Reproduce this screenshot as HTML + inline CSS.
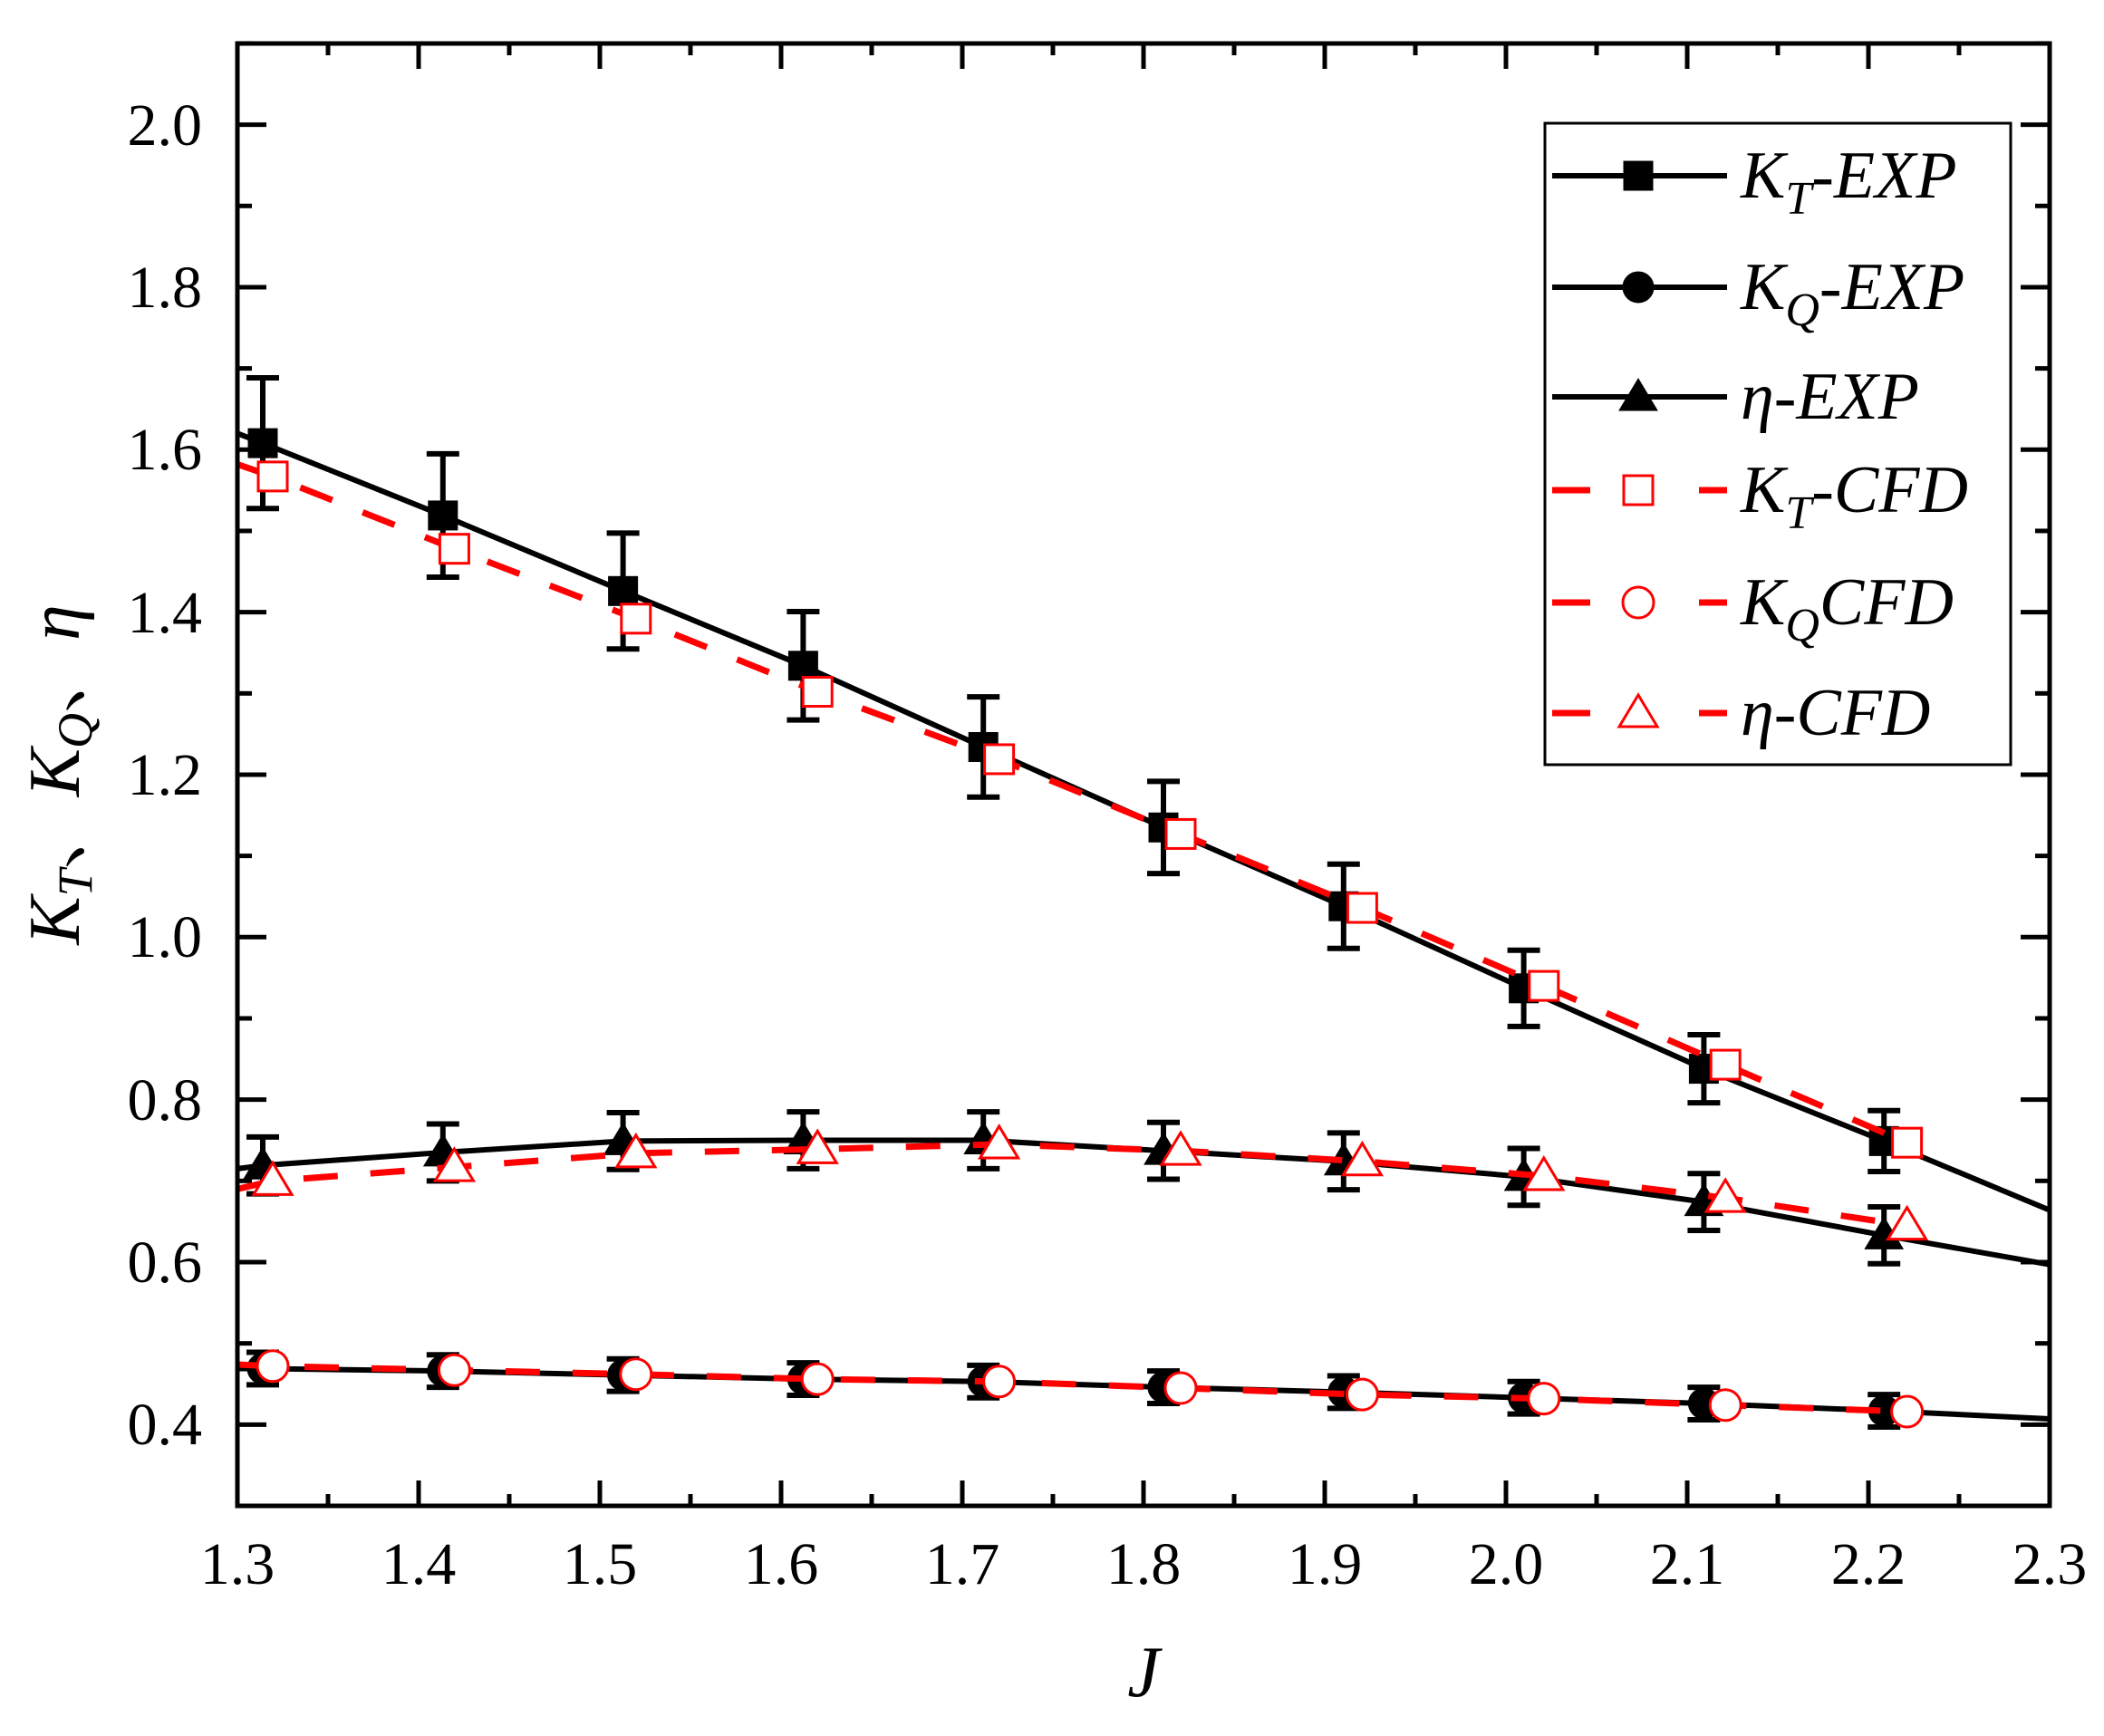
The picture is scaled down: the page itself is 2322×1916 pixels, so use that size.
<!DOCTYPE html>
<html><head><meta charset="utf-8"><style>
html,body{margin:0;padding:0;background:#fff;}
svg{display:block;}
text{font-family:"Liberation Serif","Times New Roman",serif;fill:#000;}
.cjk{font-family:"Noto Serif CJK SC","Noto Sans CJK SC",serif;}
</style></head><body>
<svg id="s" width="2322" height="1916" viewBox="0 0 2322 1916" xmlns="http://www.w3.org/2000/svg">
<rect width="2322" height="1916" fill="#fff"/>
<g id="ticks" stroke="#000" stroke-width="5"></g>
<g id="data"></g>
<rect x="262" y="48" width="2000" height="1614" fill="none" stroke="#000" stroke-width="5"/>
<g font-size="66" text-anchor="end" font-family="Liberation Serif, serif">
<text x="223" y="1594">0.4</text>
<text x="223" y="1415">0.6</text>
<text x="223" y="1236">0.8</text>
<text x="223" y="1056">1.0</text>
<text x="223" y="877">1.2</text>
<text x="223" y="698">1.4</text>
<text x="223" y="518">1.6</text>
<text x="223" y="339">1.8</text>
<text x="223" y="160">2.0</text>
</g>
<g font-size="66" text-anchor="middle" font-family="Liberation Serif, serif">
<text x="262" y="1748">1.3</text>
<text x="462" y="1748">1.4</text>
<text x="662" y="1748">1.5</text>
<text x="862" y="1748">1.6</text>
<text x="1062" y="1748">1.7</text>
<text x="1262" y="1748">1.8</text>
<text x="1462" y="1748">1.9</text>
<text x="1662" y="1748">2.0</text>
<text x="1862" y="1748">2.1</text>
<text x="2062" y="1748">2.2</text>
<text x="2262" y="1748">2.3</text>
</g>
<text x="1262" y="1872" font-size="80" font-style="italic" text-anchor="middle" font-family="Liberation Serif, serif">J</text>
<text transform="translate(87,855) rotate(-90)" font-size="80" text-anchor="middle" font-style="italic" font-family="Liberation Serif, serif">K<tspan font-size="54" dy="14">T</tspan><tspan dy="-14" font-style="normal" class="cjk">、</tspan>K<tspan font-size="54" dy="14">Q</tspan><tspan dy="-14" font-style="normal" class="cjk">、</tspan>η</text>
<rect x="1705" y="136" width="514" height="708" fill="#fff" stroke="#000" stroke-width="3"/>
<g id="leg"></g>
<g font-size="74" font-style="italic" font-family="Liberation Serif, serif">
<text x="1921" y="218">K<tspan font-size="52" dy="18">T</tspan><tspan dy="-18">-EXP</tspan></text>
<text x="1921" y="341">K<tspan font-size="52" dy="18">Q</tspan><tspan dy="-18">-EXP</tspan></text>
<text x="1921" y="462">η-EXP</text>
<text x="1921" y="565">K<tspan font-size="52" dy="18">T</tspan><tspan dy="-18">-CFD</tspan></text>
<text x="1921" y="689">K<tspan font-size="52" dy="18">Q</tspan><tspan dy="-18">CFD</tspan></text>
<text x="1921" y="811">η-CFD</text>
</g>
</svg>
<script>
var NS="http://www.w3.org/2000/svg";
function X(j){return 262+(j-1.3)*2000;}
function Y(v){return 1662-(v-0.3)*896.7;}
function el(p,t,a){var e=document.createElementNS(NS,t);for(var k in a)e.setAttribute(k,a[k]);p.appendChild(e);return e;}
var tk=document.getElementById('ticks');
for(var i=0;i<=20;i++){var j=1.3+i*0.05,x=X(j),L=(i%2==0)?28:13;
 el(tk,'line',{x1:x,y1:1662,x2:x,y2:1662-L});el(tk,'line',{x1:x,y1:48,x2:x,y2:48+L});}
for(var i=0;i<=17;i++){var v=0.4+i*0.1,y=Y(v),L=(i%2==0)?32:16;if(v>2.1)break;
 el(tk,'line',{x1:262,y1:y,x2:262+L,y2:y});el(tk,'line',{x1:2262,y1:y,x2:2262-L,y2:y});}
var d=document.getElementById('data');
var je=[],jc=[];for(var k=0;k<10;k++){je.push(1.314+0.0994*k);jc.push(1.3195+0.1002*k);}
var KTe=[1.608,1.519,1.426,1.334,1.234,1.135,1.038,0.937,0.838,0.749];
var KTc=[1.567,1.478,1.392,1.302,1.219,1.127,1.036,0.940,0.843,0.747];
var ETe=[0.719,0.735,0.749,0.750,0.750,0.737,0.724,0.705,0.674,0.633];
var ETc=[0.700,0.717,0.734,0.739,0.745,0.737,0.724,0.706,0.679,0.645];
var KQe=[0.469,0.466,0.461,0.456,0.453,0.446,0.440,0.433,0.426,0.417];
var KQc=[0.472,0.467,0.462,0.456,0.453,0.445,0.437,0.432,0.424,0.416];
function pts(js,vs,v0,vend){var s=X(1.3)+','+Y(v0);for(var k=0;k<js.length;k++)s+=' '+X(js[k])+','+Y(vs[k]);if(vend!=null)s+=' '+X(2.3)+','+Y(vend);return s;}
function errs(js,vs,e){for(var k=0;k<js.length;k++){var x=X(js[k]),ee=(typeof e=='number')?e:vs[k]*0.05;
 var y1=Y(vs[k]+ee),y2=Y(vs[k]-ee);
 el(d,'line',{x1:x,y1:y1,x2:x,y2:y2,stroke:'#000','stroke-width':6});
 el(d,'line',{x1:x-18,y1:y1,x2:x+18,y2:y1,stroke:'#000','stroke-width':6});
 el(d,'line',{x1:x-18,y1:y2,x2:x+18,y2:y2,stroke:'#000','stroke-width':6});}}
function blk(p){el(d,'polyline',{points:p,fill:'none',stroke:'#000','stroke-width':6});}
function red(p){el(d,'polyline',{points:p,fill:'none',stroke:'#f00','stroke-width':7,'stroke-dasharray':'38,36'});}
function sq(g,x,y,f){el(g,'rect',{x:x-16,y:y-16,width:32,height:32,fill:f?'#000':'#fff',stroke:f?'#000':'#f00','stroke-width':f?1:3});}
function ci(g,x,y,f){el(g,'circle',{cx:x,cy:y,r:17,fill:f?'#000':'#fff',stroke:f?'#000':'#f00','stroke-width':f?1:3});}
function tr(g,x,y,f){el(g,'polygon',{points:(x)+','+(y-20)+' '+(x-21)+','+(y+15)+' '+(x+21)+','+(y+15),fill:f?'#000':'#fff',stroke:f?'#000':'#f00','stroke-width':f?1:3});}
errs(je,KTe,null);errs(je,ETe,0.035);errs(je,KQe,0.02);
blk(pts(je,KTe,1.62,0.664));blk(pts(je,ETe,0.715,0.597));blk(pts(je,KQe,0.469,0.407));
for(var k=0;k<10;k++){sq(d,X(je[k]),Y(KTe[k]),1);tr(d,X(je[k]),Y(ETe[k]),1);ci(d,X(je[k]),Y(KQe[k]),1);}
red(pts(jc,KTc,1.582,null));red(pts(jc,ETc,0.69,null));red(pts(jc,KQc,0.474,null));
for(var k=0;k<10;k++){sq(d,X(jc[k]),Y(KTc[k]),0);tr(d,X(jc[k]),Y(ETc[k]),0);ci(d,X(jc[k]),Y(KQc[k]),0);}
var lg=document.getElementById('leg');
var rows=[194,317,438,541,665,787];
for(var r=0;r<6;r++){var y=rows[r];
 if(r<3){el(lg,'line',{x1:1713,y1:y,x2:1906,y2:y,stroke:'#000','stroke-width':6});}
 else{el(lg,'line',{x1:1713,y1:y,x2:1755,y2:y,stroke:'#f00','stroke-width':7});el(lg,'line',{x1:1875,y1:y,x2:1906,y2:y,stroke:'#f00','stroke-width':7});}
 var f=r<3?1:0,m=r%3;
 if(m==0)sq(lg,1808,y,f);else if(m==1)ci(lg,1808,y,f);else tr(lg,1808,y,f);}
</script>
</body></html>
